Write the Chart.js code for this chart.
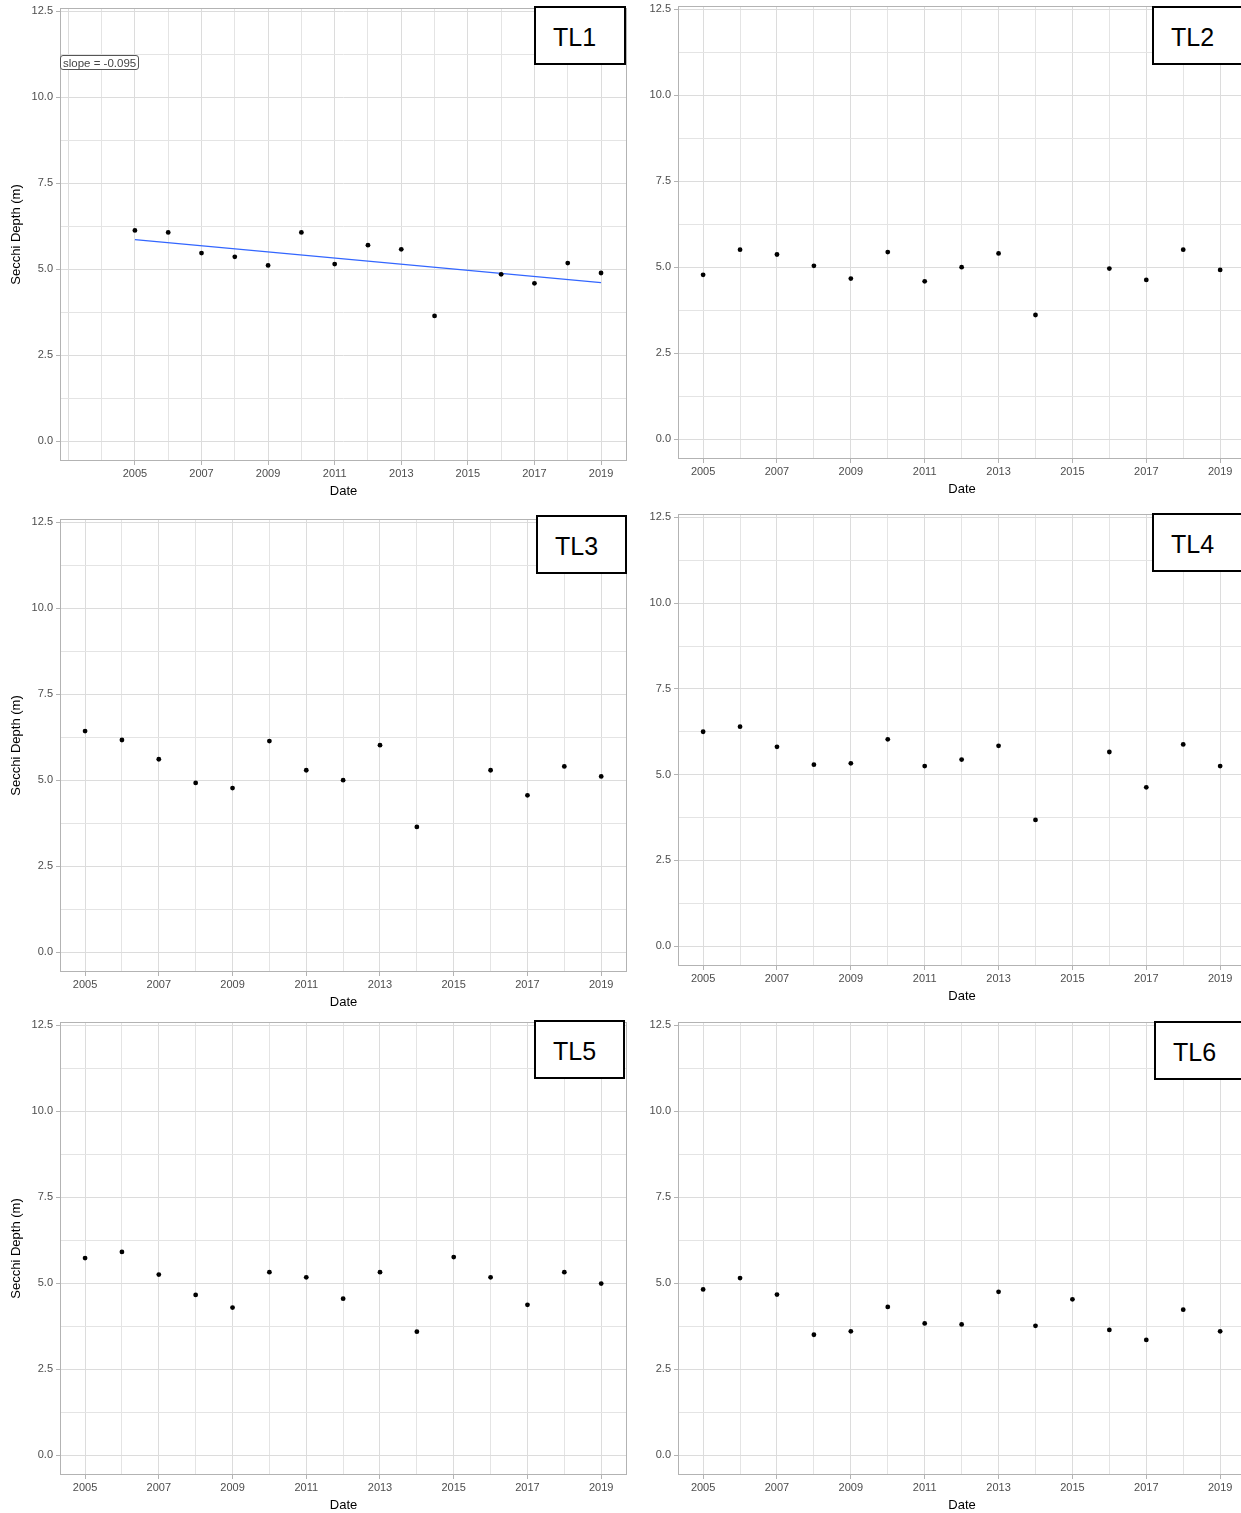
<!DOCTYPE html>
<html>
<head>
<meta charset="utf-8">
<script src="https://cdn.jsdelivr.net/npm/chart.js@4.4.1/dist/chart.umd.min.js"></script>
<style>
  html, body { margin:0; padding:0; background:#fff; }
  body { width:1241px; height:1513px; position:relative; overflow:hidden; font-family:"Liberation Sans", Arial, sans-serif; }
  .panel { position:absolute; }
  .tag { position:absolute; box-sizing:border-box; border:2px solid #000; background:#fff;
         font-size:25px; color:#000; padding:3px 0 0 17px; line-height:52px; white-space:nowrap; }
  .slope { position:absolute; box-sizing:border-box; border:1px solid #555; border-radius:3px; background:#fff;
           font-size:11.5px; color:#444; line-height:15px; padding-left:2px; white-space:nowrap; overflow:hidden; }
</style>
</head>
<body>
<script>
// years on the x axis (2015 missing at TL1-TL4)
var v_years = [2005,2006,2007,2008,2009,2010,2011,2012,2013,2014,2015,2016,2017,2018,2019];

// secchi depth (m) per station
var v_tl1 = [6.13,6.07,5.47,5.36,5.11,6.07,5.15,5.70,5.58,3.64,null,4.85,4.59,5.18,4.89];
var v_tl2 = [4.78,5.51,5.37,5.04,4.67,5.44,4.59,5.00,5.40,3.61,null,4.96,4.63,5.51,4.92];
var v_tl3 = [6.43,6.17,5.61,4.92,4.77,6.14,5.29,5.00,6.02,3.64,null,5.29,4.56,5.40,5.11];
var v_tl4 = [6.25,6.40,5.81,5.29,5.33,6.03,5.25,5.44,5.84,3.68,null,5.66,4.63,5.88,5.25];
var v_tl5 = [5.73,5.91,5.25,4.66,4.29,5.32,5.17,4.55,5.32,3.59,5.76,5.17,4.37,5.32,4.99];
var v_tl6 = [4.82,5.15,4.67,3.50,3.60,4.31,3.83,3.80,4.75,3.76,4.53,3.64,3.35,4.23,3.60];

// TL1 trend line ends
var v_trendYears = [2005, 2019];
var v_trendTL1 = [5.86, 4.61];
var v_slopeText = "slope = -0.095";

// ticks
var v_yTicks  = [0, 1.25, 2.5, 3.75, 5, 6.25, 7.5, 8.75, 10, 11.25, 12.5];
var v_yLabels = ["0.0","","2.5","","5.0","","7.5","","10.0","","12.5"];
var v_xGrid   = [2003,2004,2005,2006,2007,2008,2009,2010,2011,2012,2013,2014,2015,2016,2017,2018,2019];
var v_xLabels = ["","","2005","","2007","","2009","","2011","","2013","","2015","","2017","","2019"];

// panel layout: container box [left, top, width, height], plot area [left, top, right, bottom]
var v_panels = [
  {name:"TL1", data:v_tl1, box:[0,4,640,497],     area:[60,8,627,461],     xMin:2002.75, xMax:2019.78, yTitle:true,  tag:[534,6,92,59]},
  {name:"TL2", data:v_tl2, box:[640,2,610,497],   area:[678,6,1246,459],   xMin:2004.32, xMax:2019.70, yTitle:false, tag:[1152,6,100,59]},
  {name:"TL3", data:v_tl3, box:[0,515,640,497],   area:[60,519,627,972],   xMin:2004.32, xMax:2019.70, yTitle:true,  tag:[536,515,91,59]},
  {name:"TL4", data:v_tl4, box:[640,510,610,496], area:[678,514,1246,966], xMin:2004.32, xMax:2019.70, yTitle:false, tag:[1152,513,100,59]},
  {name:"TL5", data:v_tl5, box:[0,1018,640,497],  area:[60,1022,627,1475], xMin:2004.32, xMax:2019.70, yTitle:true,  tag:[534,1020,91,59]},
  {name:"TL6", data:v_tl6, box:[640,1018,610,497],area:[678,1022,1246,1475],xMin:2004.32, xMax:2019.70, yTitle:false, tag:[1154,1021,100,59]}
];
var v_yMin = -0.58, v_yMax = 12.6;

Chart.defaults.font.family = '"Liberation Sans", Arial, sans-serif';
Chart.defaults.animation = false;

// grey panel border on all four sides
var f_frame = {
  id: "frame",
  beforeDatasetsDraw: function(chart){
    var a = chart.chartArea, ctx = chart.ctx;
    ctx.save();
    ctx.strokeStyle = "#b3b3b3";
    ctx.lineWidth = 1;
    ctx.strokeRect(Math.round(a.left)+0.5, Math.round(a.top)+0.5,
                   Math.round(a.right-a.left)-1, Math.round(a.bottom-a.top)-1);
    ctx.restore();
  }
};

function f_xLabel(v){ var i = v_xGrid.indexOf(v); return i < 0 ? "" : v_xLabels[i]; }
function f_yLabel(v){ var i = v_yTicks.indexOf(v); return i < 0 ? "" : v_yLabels[i]; }

// no label overflow padding, the plot area is placed by hand
function f_noPad(s){ s.paddingLeft = 0; s.paddingRight = 0; s.paddingTop = 0; s.paddingBottom = 0; }

function f_points(p_vals){
  var v_out = [];
  for (var i=0; i<v_years.length; i++){
    if (p_vals[i] !== null) v_out.push({x:v_years[i], y:p_vals[i]});
  }
  return v_out;
}

function f_panel(p){
  var v_div = document.createElement("div");
  v_div.className = "panel";
  v_div.style.left = p.box[0]+"px"; v_div.style.top = p.box[1]+"px";
  v_div.style.width = p.box[2]+"px"; v_div.style.height = p.box[3]+"px";
  var v_cv = document.createElement("canvas");
  v_div.appendChild(v_cv);
  document.body.appendChild(v_div);

  var v_sets = [{
    type:"scatter", data:f_points(p.data),
    pointRadius:2.4, pointBackgroundColor:"#000", pointBorderWidth:0
  }];
  if (p.name == "TL1"){
    var v_line = [];
    for (var i=0; i<v_trendYears.length; i++) v_line.push({x:v_trendYears[i], y:v_trendTL1[i]});
    v_sets.push({type:"line", data:v_line, borderColor:"#3366ff", borderWidth:1.3, pointRadius:0, fill:false});
  }

  new Chart(v_cv, {
    type:"scatter",
    data:{datasets:v_sets},
    options:{
      responsive:true, maintainAspectRatio:false, events:[],
      layout:{padding:{left:0, top:p.area[1]-p.box[1], right:p.box[0]+p.box[2]-p.area[2], bottom:0}},
      plugins:{legend:{display:false}, tooltip:{enabled:false}},
      scales:{
        x:{
          type:"linear", min:p.xMin, max:p.xMax, bounds:"data",
          afterBuildTicks:function(s){
            s.ticks = v_xGrid.filter(function(v){ return v > p.xMin && v < p.xMax; })
                             .map(function(v){ return {value:v}; });
          },
          afterFit:function(s){ s.height = p.box[1]+p.box[3]-p.area[3]; f_noPad(s); },
          border:{display:false},
          grid:{
            color:function(c){ return c.tick && c.tick.value % 2 == 1 ? "#dcdcdc" : "#e4e4e4"; },
            lineWidth:1, tickLength:4,
            tickColor:function(c){ return c.tick && f_xLabel(c.tick.value) ? "#b3b3b3" : "rgba(0,0,0,0)"; }
          },
          ticks:{autoSkip:false, maxRotation:0, minRotation:0, padding:2, color:"#4d4d4d",
                 font:{size:11}, callback:function(v){ return f_xLabel(v); }},
          title:{display:true, text:"Date", color:"#000", font:{size:13, lineHeight:1.2}, padding:{top:0, bottom:2}}
        },
        y:{
          type:"linear", min:v_yMin, max:v_yMax, bounds:"data",
          afterBuildTicks:function(s){ s.ticks = v_yTicks.map(function(v){ return {value:v}; }); },
          afterFit:function(s){ s.width = p.area[0]-p.box[0]; f_noPad(s); },
          border:{display:false},
          grid:{
            color:function(c){ return c.tick && f_yLabel(c.tick.value) ? "#dcdcdc" : "#e4e4e4"; },
            lineWidth:1, tickLength:4,
            tickColor:function(c){ return c.tick && f_yLabel(c.tick.value) ? "#b3b3b3" : "rgba(0,0,0,0)"; }
          },
          ticks:{padding:3, color:"#4d4d4d", font:{size:11}, callback:function(v){ return f_yLabel(v); }},
          title:{display:p.yTitle, text:"Secchi Depth (m)", color:"#000", font:{size:13, lineHeight:1.2}, padding:{top:9, bottom:0}}
        }
      }
    },
    plugins:[f_frame]
  });

  // station tag box
  var v_tag = document.createElement("div");
  v_tag.className = "tag";
  v_tag.style.left = p.tag[0]+"px"; v_tag.style.top = p.tag[1]+"px";
  v_tag.style.width = p.tag[2]+"px"; v_tag.style.height = p.tag[3]+"px";
  v_tag.textContent = p.name;
  document.body.appendChild(v_tag);

  if (p.name == "TL1"){
    var v_sl = document.createElement("div");
    v_sl.className = "slope";
    v_sl.style.left = "60px"; v_sl.style.top = "55px";
    v_sl.style.width = "79px"; v_sl.style.height = "15px";
    v_sl.textContent = v_slopeText;
    document.body.appendChild(v_sl);
  }
}

for (var a=0; a<v_panels.length; a++) f_panel(v_panels[a]);
</script>
</body>
</html>
